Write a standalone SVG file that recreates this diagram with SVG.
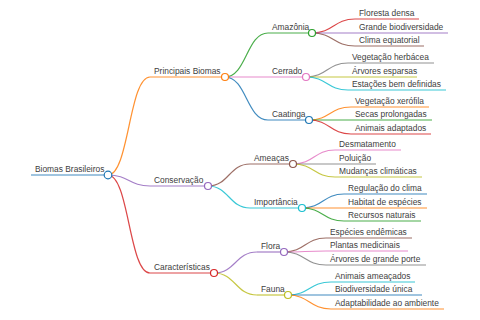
<svg xmlns="http://www.w3.org/2000/svg" width="480" height="320" viewBox="0 0 480 320">
<style>
text{font-family:"Liberation Sans",Arial,sans-serif;font-size:8.4px;fill:#404040}
.l{fill:none;stroke-width:1.2;stroke-opacity:0.85}
.n{stroke-width:1.2;stroke-opacity:0.85}
circle{fill:#fff;stroke-width:1.2}
.c1{stroke:#1f77b4}.c2{stroke:#ff7f0e}.c3{stroke:#2ca02c}.c4{stroke:#d62728}.c5{stroke:#9467bd}
.c6{stroke:#8c564b}.c7{stroke:#e377c2}.c8{stroke:#7f7f7f}.c9{stroke:#bcbd22}.c10{stroke:#17becf}
</style>
<rect width="480" height="320" fill="#fff"/>
<g id="connectors">
<path class="l c2" stroke-width="1.5" d="M108,175 C129,175 129,77 150,77"/>
<path class="l c5" stroke-width="1.5" d="M108,175 C129,175 129,186 150,186"/>
<path class="l c4" stroke-width="1.5" d="M108,175 C129,175 129,273 150,273"/>
<path class="l c3" d="M225,77 C246.5,77 246.5,33 268,33"/>
<path class="l c7" d="M225,77 C246.5,77 246.5,77 268,77"/>
<path class="l c1" d="M225,77 C246.5,77 246.5,120 268,120"/>
<path class="l c6" d="M208,186 C229,186 229,164 250,164"/>
<path class="l c10" d="M208,186 C229,186 229,208 250,208"/>
<path class="l c5" d="M214,273 C235.5,273 235.5,252 257,252"/>
<path class="l c9" d="M214,273 C235.5,273 235.5,295 257,295"/>
<path class="l c4" d="M312,33 C333.5,33 333.5,19 355,19"/>
<path class="l c5" d="M312,33 C333.5,33 333.5,33 355,33"/>
<path class="l c6" d="M312,33 C333.5,33 333.5,46 355,46"/>
<path class="l c8" d="M306,77 C327,77 327,63 348,63"/>
<path class="l c9" d="M306,77 C327,77 327,77 348,77"/>
<path class="l c10" d="M306,77 C327,77 327,90 348,90"/>
<path class="l c2" d="M309,120 C330,120 330,107 351,107"/>
<path class="l c3" d="M309,120 C330,120 330,120 351,120"/>
<path class="l c4" d="M309,120 C330,120 330,134 351,134"/>
<path class="l c7" d="M293,164 C314,164 314,150 335,150"/>
<path class="l c8" d="M293,164 C314,164 314,164 335,164"/>
<path class="l c9" d="M293,164 C314,164 314,177 335,177"/>
<path class="l c1" d="M302,208 C323,208 323,194 344,194"/>
<path class="l c2" d="M302,208 C323,208 323,208 344,208"/>
<path class="l c3" d="M302,208 C323,208 323,221 344,221"/>
<path class="l c6" d="M284,252 C305,252 305,238 326,238"/>
<path class="l c7" d="M284,252 C305,252 305,251 326,251"/>
<path class="l c8" d="M284,252 C305,252 305,265 326,265"/>
<path class="l c10" d="M288,295 C309.5,295 309.5,282 331,282"/>
<path class="l c1" d="M288,295 C309.5,295 309.5,295 331,295"/>
<path class="l c2" d="M288,295 C309.5,295 309.5,309 331,309"/>
</g>
<g id="root"><line class="n c1" stroke-width="2" x1="31" y1="175" x2="108" y2="175"/><text x="35" y="172">Biomas Brasileiros</text><circle class="c1" cx="108" cy="175" r="3.8"/></g>
<g id="principais"><line class="n c2" stroke-width="1.5" x1="150" y1="77" x2="225" y2="77"/><text x="154" y="74">Principais Biomas</text><circle class="c2" cx="225" cy="77" r="3.5"/></g>
<g id="conservacao"><line class="n c5" stroke-width="1.5" x1="150" y1="186" x2="208" y2="186"/><text x="154" y="183">Conservação</text><circle class="c5" cx="208" cy="186" r="3.5"/></g>
<g id="caracteristicas"><line class="n c4" stroke-width="1.5" x1="150" y1="273" x2="214" y2="273"/><text x="154" y="270">Características</text><circle class="c4" cx="214" cy="273" r="3.5"/></g>
<g id="amazonia"><line class="n c3" x1="268" y1="33" x2="312" y2="33"/><text x="272" y="30">Amazônia</text><circle class="c3" cx="312" cy="33" r="3.5"/></g>
<g id="cerrado"><line class="n c7" x1="268" y1="77" x2="306" y2="77"/><text x="272" y="74">Cerrado</text><circle class="c7" cx="306" cy="77" r="3.5"/></g>
<g id="caatinga"><line class="n c1" x1="268" y1="120" x2="309" y2="120"/><text x="272" y="117">Caatinga</text><circle class="c1" cx="309" cy="120" r="3.5"/></g>
<g id="ameacas"><line class="n c6" x1="250" y1="164" x2="293" y2="164"/><text x="254" y="161">Ameaças</text><circle class="c6" cx="293" cy="164" r="3.5"/></g>
<g id="importancia"><line class="n c10" x1="250" y1="208" x2="302" y2="208"/><text x="254" y="205">Importância</text><circle class="c10" cx="302" cy="208" r="3.5"/></g>
<g id="flora"><line class="n c5" x1="257" y1="252" x2="284" y2="252"/><text x="261" y="249">Flora</text><circle class="c5" cx="284" cy="252" r="3.5"/></g>
<g id="fauna"><line class="n c9" x1="257" y1="295" x2="288" y2="295"/><text x="261" y="292">Fauna</text><circle class="c9" cx="288" cy="295" r="3.5"/></g>
<g id="floresta"><line class="n c4" x1="355" y1="19" x2="419" y2="19"/><text x="359" y="16">Floresta densa</text></g>
<g id="grande"><line class="n c5" x1="355" y1="33" x2="448" y2="33"/><text x="359" y="30">Grande biodiversidade</text></g>
<g id="clima"><line class="n c6" x1="355" y1="46" x2="424" y2="46"/><text x="359" y="43">Clima equatorial</text></g>
<g id="vegherb"><line class="n c8" x1="348" y1="63" x2="434" y2="63"/><text x="352" y="60">Vegetação herbácea</text></g>
<g id="arvesp"><line class="n c9" x1="348" y1="77" x2="417" y2="77"/><text x="352" y="74">Árvores esparsas</text></g>
<g id="estacoes"><line class="n c10" x1="348" y1="90" x2="446" y2="90"/><text x="352" y="87">Estações bem definidas</text></g>
<g id="vegxer"><line class="n c2" x1="351" y1="107" x2="429" y2="107"/><text x="355" y="104">Vegetação xerófila</text></g>
<g id="secas"><line class="n c3" x1="351" y1="120" x2="432" y2="120"/><text x="355" y="117">Secas prolongadas</text></g>
<g id="animadapt"><line class="n c4" x1="351" y1="134" x2="431" y2="134"/><text x="355" y="131">Animais adaptados</text></g>
<g id="desmat"><line class="n c7" x1="335" y1="150" x2="401" y2="150"/><text x="339" y="147">Desmatamento</text></g>
<g id="poluicao"><line class="n c8" x1="335" y1="164" x2="376" y2="164"/><text x="339" y="161">Poluição</text></g>
<g id="mudancas"><line class="n c9" x1="335" y1="177" x2="422" y2="177"/><text x="339" y="174">Mudanças climáticas</text></g>
<g id="regulacao"><line class="n c1" x1="344" y1="194" x2="427" y2="194"/><text x="348" y="191">Regulação do clima</text></g>
<g id="habitat"><line class="n c2" x1="344" y1="208" x2="427" y2="208"/><text x="348" y="205">Habitat de espécies</text></g>
<g id="recursos"><line class="n c3" x1="344" y1="221" x2="421" y2="221"/><text x="348" y="218">Recursos naturais</text></g>
<g id="especies"><line class="n c6" x1="326" y1="238" x2="412" y2="238"/><text x="330" y="235">Espécies endêmicas</text></g>
<g id="plantas"><line class="n c7" x1="326" y1="251" x2="408" y2="251"/><text x="330" y="248">Plantas medicinais</text></g>
<g id="arvgrande"><line class="n c8" x1="326" y1="265" x2="426" y2="265"/><text x="330" y="262">Árvores de grande porte</text></g>
<g id="animame"><line class="n c10" x1="331" y1="282" x2="415" y2="282"/><text x="335" y="279">Animais ameaçados</text></g>
<g id="biounica"><line class="n c1" x1="331" y1="295" x2="422" y2="295"/><text x="335" y="292">Biodiversidade única</text></g>
<g id="adapt"><line class="n c2" x1="331" y1="309" x2="444" y2="309"/><text x="335" y="306">Adaptabilidade ao ambiente</text></g>
</svg>
